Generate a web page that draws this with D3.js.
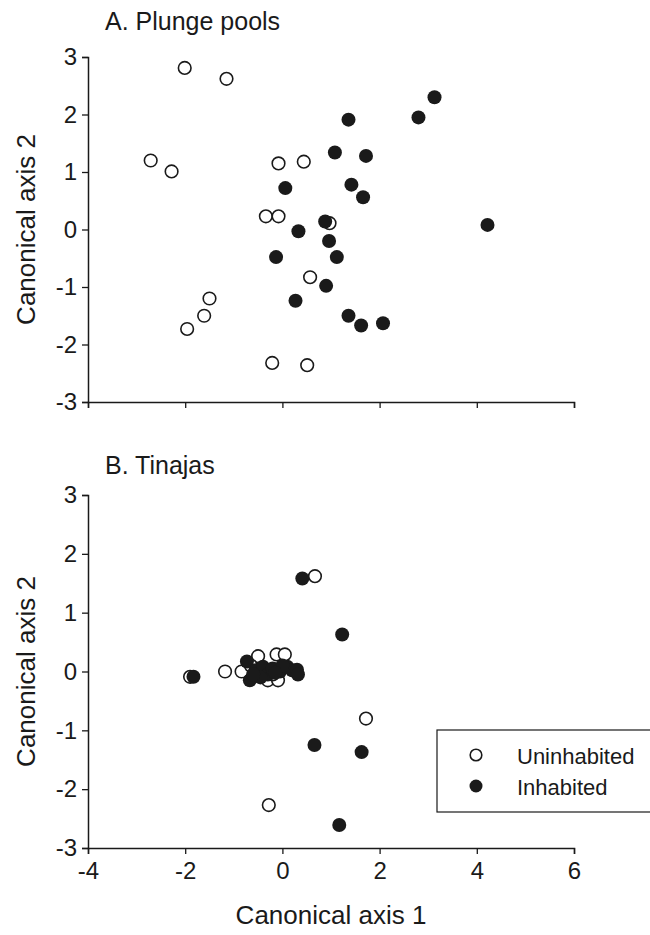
<!DOCTYPE html>
<html>
<head>
<meta charset="utf-8">
<script src="https://cdn.jsdelivr.net/npm/d3@7"></script>
<style>
  html, body { margin: 0; padding: 0; background: #fff; }
  svg { display: block; font-family: "Liberation Sans", Arial, sans-serif; }
</style>
</head>
<body>
<svg id="chart" width="650" height="935"></svg>
<script>
// ---- Data ----
const xTicks = [-4, -2, 0, 2, 4, 6];
const yTicks = [-3, -2, -1, 0, 1, 2, 3];
const panelTitles = ["A. Plunge pools", "B. Tinajas"];
const seriesNames = ["Uninhabited", "Inhabited"];

// Panel A: Plunge pools
const plungeUninhabitedX = [-2.01, -1.15, -2.71, -2.28, -0.08, 0.44, -0.34, -0.08, 0.97, 0.57, -1.50, -1.61, -1.96, -0.21, 0.51];
const plungeUninhabitedY = [2.81, 2.62, 1.20, 1.01, 1.15, 1.18, 0.23, 0.23, 0.11, -0.83, -1.20, -1.50, -1.73, -2.32, -2.36];
const plungeInhabitedX = [3.13, 2.80, 1.36, 1.08, 1.72, 0.06, 1.42, 1.66, 4.22, 0.33, 0.88, 0.96, -0.13, 1.12, 0.90, 0.27, 1.36, 1.62, 2.07];
const plungeInhabitedY = [2.30, 1.95, 1.91, 1.34, 1.28, 0.72, 0.78, 0.56, 0.08, -0.03, 0.14, -0.20, -0.48, -0.48, -0.98, -1.24, -1.50, -1.67, -1.63];

// Panel B: Tinajas
const tinajasUninhabitedX = [0.67, 1.72, -0.28, -1.90, -1.18, -0.84, -0.50, -0.12, 0.05, -0.30, -0.09, -0.65, -0.20];
const tinajasUninhabitedY = [1.62, -0.80, -2.27, -0.09, 0.00, 0.00, 0.26, 0.29, 0.29, -0.15, -0.15, 0.10, -0.05];
const tinajasInhabitedX = [0.41, 1.23, 0.66, 1.63, 1.17, -1.83, -0.73, -0.67, -0.55, -0.40, -0.30, -0.20, -0.05, 0.10, 0.20, 0.30, 0.32, -0.45, 0.00, -0.60, -0.15];
const tinajasInhabitedY = [1.58, 0.63, -1.25, -1.37, -2.61, -0.09, 0.17, -0.15, 0.02, 0.08, -0.05, 0.05, 0.00, 0.08, 0.02, 0.03, -0.05, -0.10, 0.10, -0.05, -0.02];

// ---- Layout ----
const svg = d3.select("#chart");
const left = 88, right = 574;
const panels = [
  { title: panelTitles[0], top: 57, bottom: 402, titleY: 30, showX: false,
    unX: plungeUninhabitedX, unY: plungeUninhabitedY, inX: plungeInhabitedX, inY: plungeInhabitedY },
  { title: panelTitles[1], top: 495, bottom: 848, titleY: 474, showX: true,
    unX: tinajasUninhabitedX, unY: tinajasUninhabitedY, inX: tinajasInhabitedX, inY: tinajasInhabitedY }
];

const x = d3.scaleLinear().domain([-4, 6]).range([left, right]);
const ink = "#1a1a1a";

panels.forEach(p => {
  const y = d3.scaleLinear().domain([-3, 3]).range([p.bottom, p.top]);
  const g = svg.append("g");

  const ya = g.append("g").attr("transform", `translate(${left},0)`)
    .call(d3.axisLeft(y).tickValues(yTicks).tickSize(6).tickPadding(5).tickFormat(d3.format("d")));
  const xa = g.append("g").attr("transform", `translate(0,${p.bottom})`)
    .call(d3.axisBottom(x).tickValues(xTicks).tickSize(6).tickPadding(8).tickFormat(p.showX ? d3.format("d") : () => ""));
  [ya, xa].forEach(a => {
    a.select(".domain").attr("stroke", ink).attr("stroke-width", 1.5);
    a.selectAll(".tick line").attr("stroke", ink).attr("stroke-width", 1.3);
    a.selectAll(".tick text").attr("fill", ink).style("font-size", "24px")
      .style("font-family", '"Liberation Sans", Arial, sans-serif');
  });
  g.selectAll(".tick text").text(function() { return d3.select(this).text().replace("−", "-"); });

  g.append("text").attr("x", 105).attr("y", p.titleY).attr("fill", ink)
    .style("font-size", "25px").text(p.title);

  g.append("text").attr("transform", `translate(35,${(p.top + p.bottom) / 2}) rotate(-90)`)
    .attr("text-anchor", "middle").attr("fill", ink).style("font-size", "26px").text("Canonical axis 2");

  const un = p.unX.map((v, i) => [v, p.unY[i]]);
  const inh = p.inX.map((v, i) => [v, p.inY[i]]);
  g.append("g").selectAll("circle").data(un).join("circle")
    .attr("cx", d => x(d[0])).attr("cy", d => y(d[1])).attr("r", 6.3)
    .attr("fill", "#fff").attr("stroke", ink).attr("stroke-width", 1.6);
  g.append("g").selectAll("circle").data(inh).join("circle")
    .attr("cx", d => x(d[0])).attr("cy", d => y(d[1])).attr("r", 7)
    .attr("fill", ink);
});

svg.append("text").attr("x", (left + right) / 2).attr("y", 924).attr("text-anchor", "middle")
  .attr("fill", ink).style("font-size", "26px").text("Canonical axis 1");

// legend
const lg = svg.append("g");
lg.append("rect").attr("x", 437).attr("y", 730).attr("width", 220).attr("height", 82)
  .attr("fill", "#fff").attr("stroke", ink).attr("stroke-width", 1.2);
const legendItems = seriesNames.map((n, i) => ({ name: n, filled: i === 1 }));
legendItems.forEach((d, i) => {
  const cy = 755 + i * 31;
  lg.append("circle").attr("cx", 476).attr("cy", cy).attr("r", d.filled ? 6.5 : 5.8)
    .attr("fill", d.filled ? ink : "#fff").attr("stroke", ink).attr("stroke-width", d.filled ? 0 : 1.6);
  lg.append("text").attr("x", 517).attr("y", cy + 9).attr("fill", ink)
    .style("font-size", "22px").text(d.name);
});
</script>
</body>
</html>
